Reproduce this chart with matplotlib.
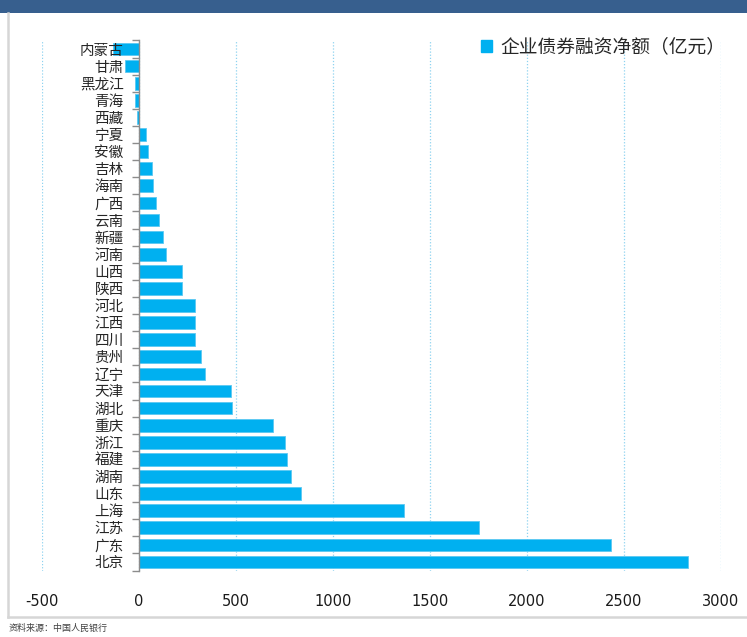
import matplotlib
matplotlib.use("Agg")
import matplotlib.pyplot as plt
from matplotlib.patches import Rectangle, Patch
from matplotlib.lines import Line2D

plt.rcParams['font.family'] = ['Noto Sans CJK SC', 'DejaVu Sans']

provinces = ['内蒙古', '甘肃', '黑龙江', '青海', '西藏', '宁夏', '安徽', '吉林', '海南', '广西',
             '云南', '新疆', '河南', '山西', '陕西', '河北', '江西', '四川', '贵州', '辽宁',
             '天津', '湖北', '重庆', '浙江', '福建', '湖南', '山东', '上海', '江苏', '广东', '北京']
values = [-136, -74, -23, -23, -9, 37, 44, 66, 73, 86,
          101, 124, 137, 224, 224, 291, 289, 289, 318, 340,
          472, 479, 689, 754, 762, 784, 834, 1365, 1755, 2431, 2830]
xticks = [-500, 0, 500, 1000, 1500, 2000, 2500, 3000]
series_name = '企业债券融资净额（亿元）'
source_text = '资料来源：中国人民银行'

W, H = 747, 637
fig = plt.figure(figsize=(W / 100, H / 100), dpi=100)

# Axes placement (pixels -> figure fraction)
x0, x1 = 42, 721
y_top, y_bot = 40.5, 570.5
ax = fig.add_axes([x0 / W, (H - y_bot) / H, (x1 - x0) / W, (y_bot - y_top) / H])

bar_color = '#00B0F0'
pos = list(range(len(provinces)))
ax.barh(pos, values, height=0.74, color=bar_color, edgecolor='#5CC8F2', linewidth=0.6, zorder=2)

ax.set_xlim(-500, 3000)
ax.set_ylim(len(provinces) - 0.5, -0.5)

# spines
for s in ['top', 'right', 'bottom']:
    ax.spines[s].set_visible(False)
ax.spines['left'].set_position(('data', 0))
ax.spines['left'].set_color('#8C8C8C')
ax.spines['left'].set_linewidth(1.0)
ax.spines['left'].set_zorder(3)

# y ticks: labels at centers, tick marks at boundaries
ax.set_yticks(pos)
ax.set_yticklabels(provinces, fontsize=10.5, color='#262626')
ax.set_yticks([p - 0.5 for p in pos] + [len(provinces) - 0.5], minor=True)
ax.tick_params(axis='y', which='major', length=0, pad=11)
ax.tick_params(axis='y', which='minor', length=5, width=1, color='#8C8C8C', direction='out')

# x ticks
ax.set_xticks(xticks)
ax.set_xticklabels([str(v) for v in xticks], fontsize=10.5, family='DejaVu Sans', color='#1A1A1A')
ax.tick_params(axis='x', which='both', length=0, pad=17)

# dotted vertical grid (behind bars); y labels drawn over bars
ax.xaxis.grid(True, linestyle=(0, (1, 1.5)), color='#8FD3F0', linewidth=0.9)
ax.xaxis.set_zorder(0.5)
ax.yaxis.set_zorder(3)

# legend
leg = ax.legend(handles=[Patch(facecolor=bar_color, edgecolor=bar_color, label=series_name)],
                loc='center left', bbox_to_anchor=(472 / W, (H - 47) / H),
                bbox_transform=fig.transFigure, frameon=False, fontsize=13.5,
                handlelength=0.55, handleheight=0.55, handletextpad=0.45, borderpad=0,
                labelcolor='#262626')

# decorations: top band, left border, bottom border
fig.patches.append(Rectangle((0, (H - 12.7) / H), 1, 12.7 / H, transform=fig.transFigure,
                             facecolor='#375F8E', edgecolor='none', zorder=0))
fig.lines.append(Line2D([8 / W, 8 / W], [(H - 617) / H, (H - 12.7) / H], transform=fig.transFigure,
                        color='#D6D6D6', linewidth=1.8))
fig.lines.append(Line2D([8 / W, 1], [(H - 617) / H, (H - 617) / H], transform=fig.transFigure,
                        color='#D6D6D6', linewidth=1.8))

fig.text(9 / W, (H - 628) / H, source_text, fontsize=6.5, color='#404040', va='center', ha='left')

fig.savefig('out.png', dpi=100)
